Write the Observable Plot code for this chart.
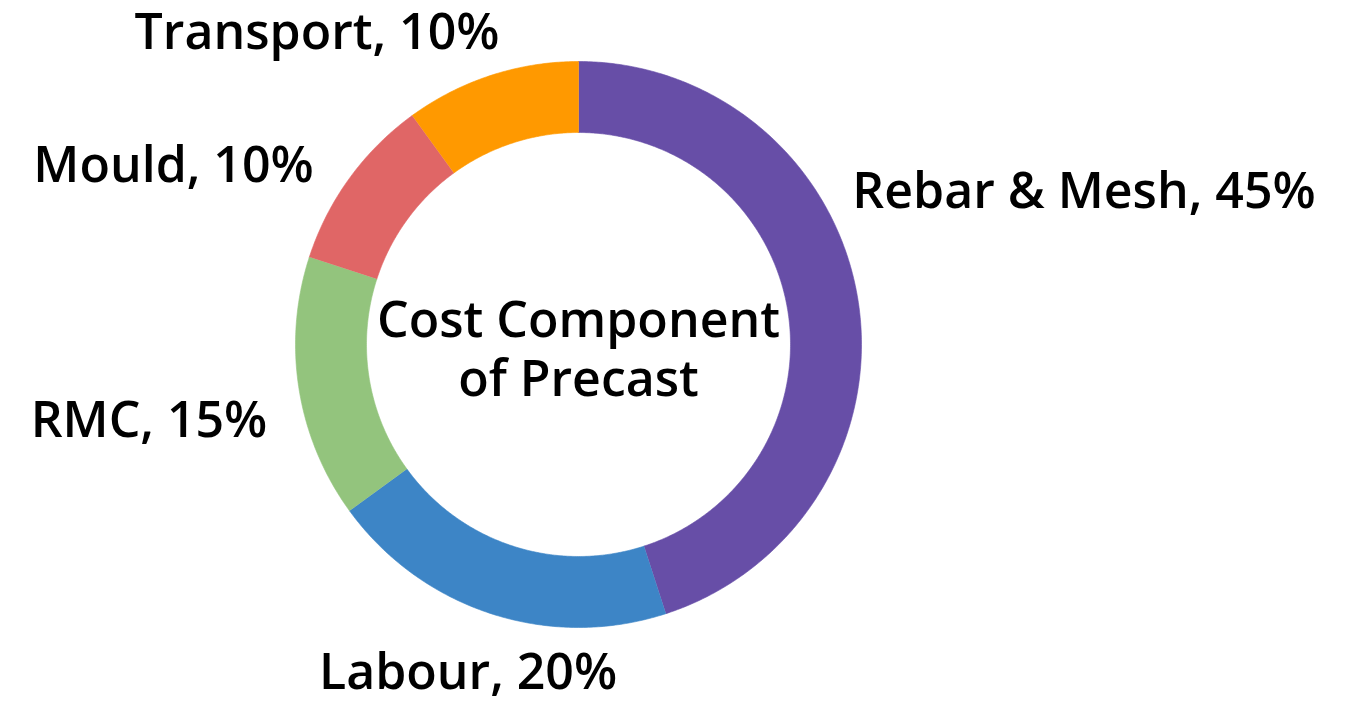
<!DOCTYPE html>
<html>
<head>
<meta charset="utf-8">
<script src="https://cdn.jsdelivr.net/npm/d3@7"></script>
<script src="https://cdn.jsdelivr.net/npm/@observablehq/plot@0.6"></script>
<style>
  html, body { margin: 0; padding: 0; background: #fff; }
  #chart svg { display: block; }
</style>
</head>
<body>
<div id="chart"></div>
<script>
// ---- data ----
const categories = ["Rebar & Mesh", "Labour", "RMC", "Mould", "Transport"];
const shares = [45, 20, 15, 10, 10];
const colors = ["#674ea7", "#3d85c6", "#93c47d", "#e06666", "#ff9900"];
const centerTitle = ["Cost Component", "of Precast"];

// ---- layout (label nudges in px, relative to slice mid-angle on outer edge) ----
const labelOffsets = [
  [226, -92],   // Rebar & Mesh
  [-23, 75],    // Labour
  [-150, 48],   // RMC
  [-176, 4],    // Mould
  [-174, -26]   // Transport
];
const innerRatio = 212 / 283;
const font = "'Open Sans', 'Noto Sans', sans-serif";
const fontSize = 50;

// ---- build ring slice polygons from shares ----
const total = d3.sum(shares);
const points = [];
const labels = [];
let acc = 0;
categories.forEach((name, i) => {
  const a0 = acc / total * 2 * Math.PI;
  acc += shares[i];
  const a1 = acc / total * 2 * Math.PI;
  const n = Math.max(8, Math.ceil((a1 - a0) / (Math.PI / 360)));
  for (let k = 0; k <= n; k++) {
    const a = a0 + (a1 - a0) * k / n;
    points.push({name, x: Math.sin(a), y: Math.cos(a)});
  }
  for (let k = n; k >= 0; k--) {
    const a = a0 + (a1 - a0) * k / n;
    points.push({name, x: innerRatio * Math.sin(a), y: innerRatio * Math.cos(a)});
  }
  const am = (a0 + a1) / 2;
  labels.push({name, text: `${name}, ${shares[i]}%`, x: Math.sin(am), y: Math.cos(am), i});
});

const marks = [
  Plot.line(points, {x: "x", y: "y", z: "name", fill: "name", stroke: "name", strokeWidth: 0.6, curve: "linear"})
];
labels.forEach(l => {
  marks.push(Plot.text([l], {
    x: "x", y: "y", text: "text",
    dx: labelOffsets[l.i][0], dy: labelOffsets[l.i][1],
    textAnchor: "middle", lineAnchor: "bottom",
    fontSize, fontWeight: 600, fontFamily: font, fill: "#000"
  }));
});
marks.push(Plot.text([centerTitle.join("\n")], {
  x: () => 0, y: () => 0, text: d => d,
  dy: 51, textAnchor: "middle", lineAnchor: "bottom", lineHeight: 1.18,
  fontSize, fontWeight: 600, fontFamily: font, fill: "#000"
}));

const chart = Plot.plot({
  width: 1353,
  height: 701,
  margin: 0,
  x: {domain: [-1, 1], range: [295, 861], axis: null},
  y: {domain: [-1, 1], range: [627, 61], axis: null},
  color: {domain: categories, range: colors},
  style: {background: "#fff", overflow: "visible"},
  marks
});
document.getElementById("chart").appendChild(chart);
</script>
</body>
</html>
